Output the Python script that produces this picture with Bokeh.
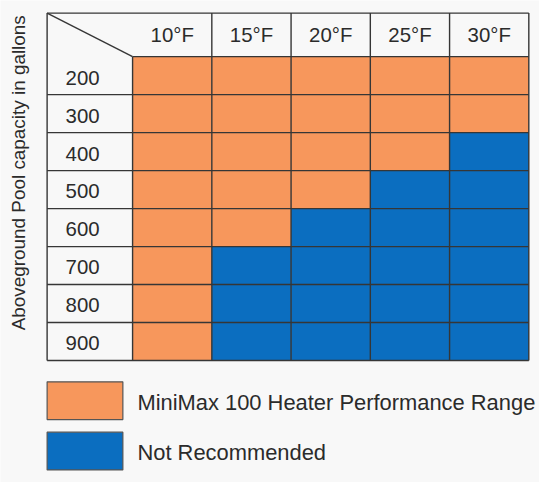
import numpy as np
from bokeh.plotting import figure
from bokeh.models import Range1d
from bokeh.core.properties import value
from bokeh.embed import file_html
from bokeh.resources import INLINE

# ---------------- data ----------------
temperatures = ["10°F", "15°F", "20°F", "25°F", "30°F"]
capacities = ["200", "300", "400", "500", "600", "700", "800", "900"]
# 1 = MiniMax 100 heater performance range, 0 = not recommended
status_200 = [1, 1, 1, 1, 1]
status_300 = [1, 1, 1, 1, 1]
status_400 = [1, 1, 1, 1, 0]
status_500 = [1, 1, 1, 0, 0]
status_600 = [1, 1, 0, 0, 0]
status_700 = [1, 0, 0, 0, 0]
status_800 = [1, 0, 0, 0, 0]
status_900 = [1, 0, 0, 0, 0]
status = [status_200, status_300, status_400, status_500,
          status_600, status_700, status_800, status_900]
legend_labels = ["MiniMax 100 Heater Performance Range", "Not Recommended"]
y_title = "Aboveground Pool capacity in gallons"

# ---------------- style ----------------
ORANGE = "#F7975C"
BLUE = "#0B6EC0"
TEXT = "#2b2b2b"
LINE = "#363636"
BG = "#f8f8f8"
FONT = value("Liberation Sans")

# layout (reference-canvas pixels, canvas 555 x 498)
CANVAS_W, CANVAS_H = 555, 498
TABLE_LEFT, DATA_LEFT, TABLE_RIGHT = 48, 136, 544
TABLE_TOP, HEADER_BOTTOM, TABLE_BOTTOM = 13, 58, 372
n_cols, n_rows = len(temperatures), len(capacities)
COL_W = (TABLE_RIGHT - DATA_LEFT) / n_cols
ROW_H = (TABLE_BOTTOM - HEADER_BOTTOM) / n_rows

def X(px):
    return (px - DATA_LEFT) / COL_W

def Y(py):
    return (py - HEADER_BOTTOM) / ROW_H

W, H = 539, 482
S = W / CANVAS_W  # font scale

def fs(size):
    return f"{size * S:.1f}px"

p = figure(width=W, height=H, output_backend="svg", toolbar_location=None,
           x_range=Range1d(X(0), X(CANVAS_W)), y_range=Range1d(Y(CANVAS_H), Y(0)),
           x_axis_location=None, y_axis_location=None, min_border=0,
           background_fill_color=BG, border_fill_color=BG, outline_line_color=None)
p.xgrid.visible = False
p.ygrid.visible = False

# cells
left, right, top, bottom, colors = [], [], [], [], []
for r, row in enumerate(status):
    for c, s in enumerate(row):
        left.append(c); right.append(c + 1)
        top.append(r); bottom.append(r + 1)
        colors.append(ORANGE if s else BLUE)
p.quad(left=left, right=right, top=top, bottom=bottom,
       fill_color=colors, line_color=None)

# grid lines
xl, xr = X(TABLE_LEFT), n_cols
yt, yb = Y(TABLE_TOP), n_rows
xs, ys = [], []
xs.append([xl, xr]); ys.append([yt, yt])
xs.append([0, xr]); ys.append([0, 0])
for r in range(1, n_rows + 1):
    xs.append([xl, xr]); ys.append([r, r])
xs.append([xl, xl]); ys.append([yt, yb])
xs.append([0, 0]); ys.append([0, yb])
for c in range(1, n_cols + 1):
    xs.append([c, c]); ys.append([yt, yb])
xs.append([xl, 0]); ys.append([yt, 0])
p.multi_line(xs=xs, ys=ys, line_color=LINE, line_width=1.4)

# header labels
p.text(x=[c + 0.5 for c in range(n_cols)], y=[Y(36)] * n_cols, text=temperatures,
       text_align="center", text_baseline="middle", text_font=FONT,
       text_font_size=fs(21), text_color=TEXT)
# row labels
p.text(x=[X(67)] * n_rows, y=[r + 0.55 for r in range(n_rows)], text=capacities,
       text_align="left", text_baseline="middle", text_font=FONT,
       text_font_size=fs(21), text_color=TEXT)
# y title
p.text(x=[X(19)], y=[Y(178)], text=[y_title], angle=np.pi / 2,
       text_align="center", text_baseline="middle", text_font=FONT,
       text_font_size=fs(19.5), text_color=TEXT)

# legend
leg_top = [Y(394), Y(446)]
leg_bot = [Y(433), Y(485)]
p.quad(left=[X(48)] * 2, right=[X(126)] * 2, top=leg_top, bottom=leg_bot,
       fill_color=[ORANGE, BLUE], line_color="#555555", line_width=1.2)
p.text(x=[X(141)] * 2, y=[Y(415), Y(467)], text=legend_labels,
       text_align="left", text_baseline="middle", text_font=FONT,
       text_font_size=fs(22.5), text_color=TEXT)

open("out.html", "w").write(file_html(p, INLINE))
